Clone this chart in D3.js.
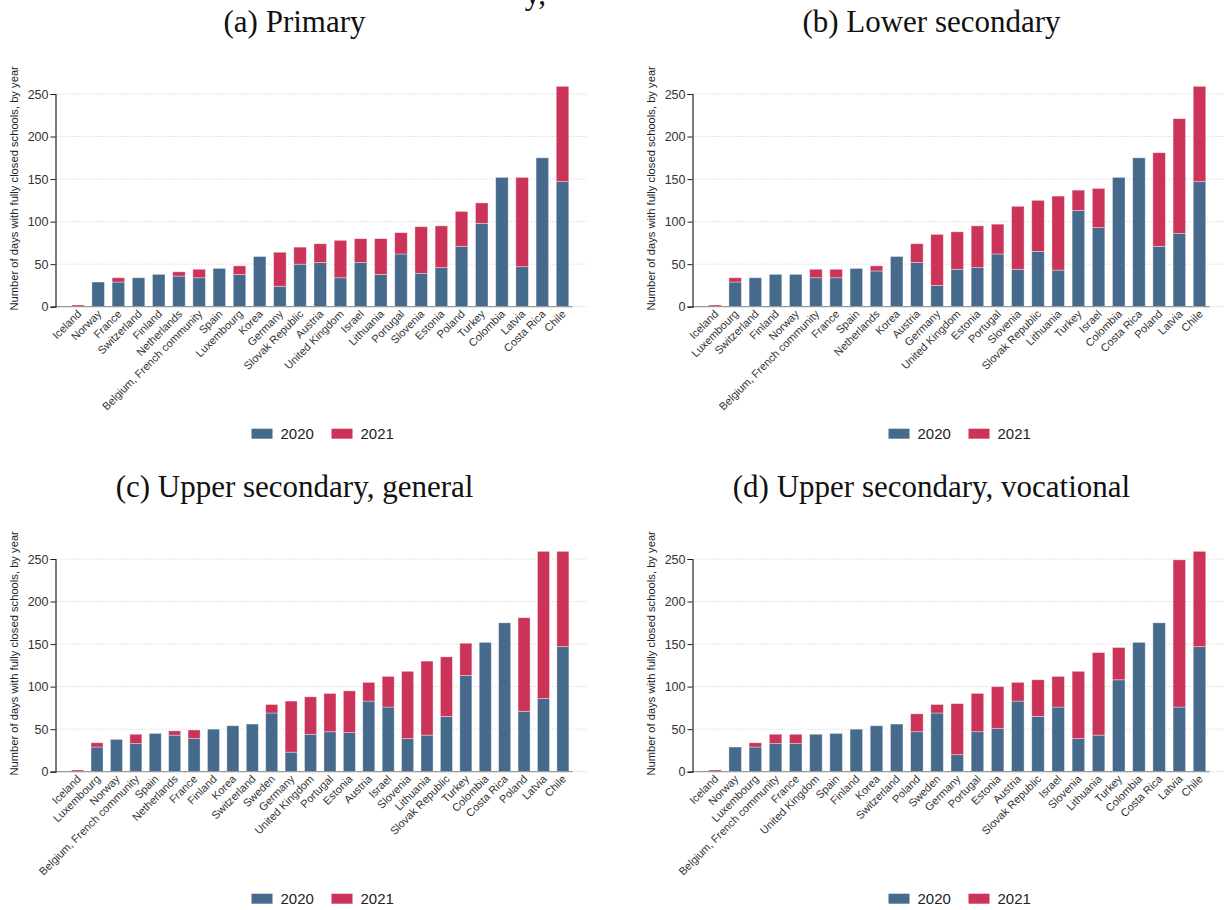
<!DOCTYPE html>
<html>
<head>
<meta charset="utf-8">
<script src="https://cdn.jsdelivr.net/npm/d3@7"></script>
<style>
  body { margin: 0; background: #fff; }
  svg { display: block; }
</style>
</head>
<body>
<div class="canvas"></div>
<script>
// data, one set of arrays per panel
const primaryCountries = ['Iceland', 'Norway', 'France', 'Switzerland', 'Finland', 'Netherlands',
  'Belgium, French community', 'Spain', 'Luxembourg', 'Korea', 'Germany', 'Slovak Republic',
  'Austria', 'United Kingdom', 'Israel', 'Lithuania', 'Portugal', 'Slovenia', 'Estonia', 'Poland',
  'Turkey', 'Colombia', 'Latvia', 'Costa Rica', 'Chile'];
const primary2020 = [0, 29, 29, 34, 38, 36, 34, 45, 38, 59, 24, 50, 52, 34, 52, 38, 62, 39, 46, 71, 98, 152, 47, 175, 147];
const primary2021 = [2, 0, 5, 0, 0, 5, 10, 0, 10, 0, 40, 20, 22, 44, 28, 42, 25, 55, 49, 41, 24, 0, 105, 0, 112];

const lowerCountries = ['Iceland', 'Luxembourg', 'Switzerland', 'Finland', 'Norway',
  'Belgium, French community', 'France', 'Spain', 'Netherlands', 'Korea', 'Austria', 'Germany',
  'United Kingdom', 'Estonia', 'Portugal', 'Slovenia', 'Slovak Republic', 'Lithuania', 'Turkey',
  'Israel', 'Colombia', 'Costa Rica', 'Poland', 'Latvia', 'Chile'];
const lower2020 = [0, 29, 34, 38, 38, 34, 34, 45, 42, 59, 52, 25, 44, 46, 62, 44, 65, 43, 113, 93, 152, 175, 71, 86, 147];
const lower2021 = [2, 5, 0, 0, 0, 10, 10, 0, 6, 0, 22, 60, 44, 49, 35, 74, 60, 87, 24, 46, 0, 0, 110, 135, 112];

const generalCountries = ['Iceland', 'Luxembourg', 'Norway', 'Belgium, French community', 'Spain',
  'Netherlands', 'France', 'Finland', 'Korea', 'Switzerland', 'Sweden', 'Germany', 'United Kingdom',
  'Portugal', 'Estonia', 'Austria', 'Israel', 'Slovenia', 'Lithuania', 'Slovak Republic', 'Turkey',
  'Colombia', 'Costa Rica', 'Poland', 'Latvia', 'Chile'];
const general2020 = [0, 29, 38, 33, 45, 43, 39, 50, 54, 56, 69, 23, 44, 47, 46, 83, 76, 39, 43, 65, 113, 152, 175, 71, 86, 147];
const general2021 = [2, 5, 0, 11, 0, 5, 10, 0, 0, 0, 10, 60, 44, 45, 49, 22, 36, 79, 87, 70, 38, 0, 0, 110, 173, 112];

const vocationalCountries = ['Iceland', 'Norway', 'Luxembourg', 'Belgium, French community', 'France',
  'United Kingdom', 'Spain', 'Finland', 'Korea', 'Switzerland', 'Poland', 'Sweden', 'Germany',
  'Portugal', 'Estonia', 'Austria', 'Slovak Republic', 'Israel', 'Slovenia', 'Lithuania', 'Turkey',
  'Colombia', 'Costa Rica', 'Latvia', 'Chile'];
const vocational2020 = [0, 29, 29, 33, 33, 44, 45, 50, 54, 56, 47, 69, 20, 47, 51, 83, 65, 76, 39, 43, 108, 152, 175, 76, 147];
const vocational2021 = [2, 0, 5, 11, 11, 0, 0, 0, 0, 0, 21, 10, 60, 45, 49, 22, 43, 36, 79, 97, 38, 0, 0, 173, 112];

const years = ['2020', '2021'];
const yTicks = [0, 50, 100, 150, 200, 250];
const colors = {'2020': '#466a8c', '2021': '#cc3358'};

const sans = '"Liberation Sans", Arial, sans-serif';
const serif = '"Liberation Serif", "Times New Roman", serif';

// select the svg container first
const svg = d3.select('.canvas')
  .append('svg')
    .attr('width', 1225)
    .attr('height', 910);

// clipped main title at the very top edge
svg.append('text')
  .attr('x', 546).attr('y', 4)
  .attr('text-anchor', 'end')
  .attr('font-family', serif)
  .attr('font-size', 31)
  .attr('fill', '#111')
  .text('y,');

// plot dimensions (same for all panels)
const plotW = 533;
const plotH = 212.7;

const y = d3.scaleLinear()
  .domain([0, 250])
  .range([plotH, 0]);

const drawPanel = (ox, oy, title, countries, v2020, v2021) => {
  const g = svg.append('g')
    .attr('transform', `translate(${ox}, ${oy})`);

  const x = d3.scaleBand()
    .domain(countries)
    .range([12.4, 517.1])
    .paddingInner(0.38)
    .paddingOuter(0.19);

  // title
  g.append('text')
    .attr('x', 239)
    .attr('y', -62)
    .attr('text-anchor', 'middle')
    .attr('font-family', serif)
    .attr('font-size', 31)
    .attr('fill', '#111')
    .text(title);

  // dotted gridlines
  g.append('g')
    .selectAll('line')
    .data(yTicks)
    .join('line')
      .attr('x1', 2).attr('x2', plotW)
      .attr('y1', d => y(d)).attr('y2', d => y(d))
      .attr('stroke', '#c8c8c8')
      .attr('stroke-width', 1)
      .attr('stroke-dasharray', '1,2');

  // stacked bars
  const stacked = d3.stack().keys(years)(countries.map((c, i) => ({
    country: c, '2020': v2020[i], '2021': v2021[i]
  })));

  g.append('g')
    .selectAll('g')
    .data(stacked)
    .join('g')
      .attr('fill', d => colors[d.key])
    .selectAll('rect')
    .data(d => d.filter(s => s[1] > s[0]))
    .join('rect')
      .attr('x', d => x(d.data.country))
      .attr('width', x.bandwidth())
      .attr('y', d => y(d[1]))
      .attr('height', d => y(d[0]) - y(d[1]))
      .attr('stroke', '#ffffff')
      .attr('stroke-opacity', 0.45)
      .attr('stroke-width', 0.8);

  // x axis
  const xAxisGroup = g.append('g')
    .attr('transform', `translate(0, ${plotH})`);
  xAxisGroup.append('line')
    .attr('x1', 0).attr('x2', 517.1)
    .attr('stroke', '#9a9a9a')
    .attr('stroke-width', 1.2);
  xAxisGroup.selectAll('text')
    .data(countries)
    .join('text')
      .attr('text-anchor', 'end')
      .attr('font-family', sans)
      .attr('font-size', 11)
      .attr('fill', '#333')
      .attr('transform', d => `translate(${x(d) + x.bandwidth() / 2 + 4}, 8) rotate(-45)`)
      .text(d => d);

  // y axis
  const yAxis = d3.axisLeft(y)
    .tickValues(yTicks)
    .tickSize(5)
    .tickPadding(2);
  const yAxisGroup = g.append('g').call(yAxis);
  yAxisGroup.select('.domain').attr('stroke', '#222').attr('stroke-width', 1.2);
  yAxisGroup.selectAll('.tick line').attr('stroke', '#222');
  yAxisGroup.selectAll('text')
    .attr('font-family', sans)
    .attr('font-size', 12.5)
    .attr('fill', '#333');

  // Y label
  g.append('text')
    .attr('transform', `translate(-38, ${plotH / 2 - 12}) rotate(-90)`)
    .attr('text-anchor', 'middle')
    .attr('font-family', sans)
    .attr('font-size', 11.2)
    .attr('fill', '#222')
    .text('Number of days with fully closed schools, by year');

  // legend
  const legend = g.append('g')
    .attr('transform', `translate(196, ${plotH + 127})`);
  years.forEach((yr, i) => {
    const lx = i * 80;
    legend.append('rect')
      .attr('x', lx).attr('y', -5)
      .attr('width', 21).attr('height', 10)
      .attr('fill', colors[yr]);
    legend.append('text')
      .attr('x', lx + 29).attr('y', 5.5)
      .attr('font-family', sans)
      .attr('font-size', 15)
      .attr('fill', '#222')
      .text(yr);
  });
};

drawPanel(55.5, 94, '(a) Primary', primaryCountries, primary2020, primary2021);
drawPanel(692.5, 94, '(b) Lower secondary', lowerCountries, lower2020, lower2021);
drawPanel(55.5, 559, '(c) Upper secondary, general', generalCountries, general2020, general2021);
drawPanel(692.5, 559, '(d) Upper secondary, vocational', vocationalCountries, vocational2020, vocational2021);
</script>
</body>
</html>
